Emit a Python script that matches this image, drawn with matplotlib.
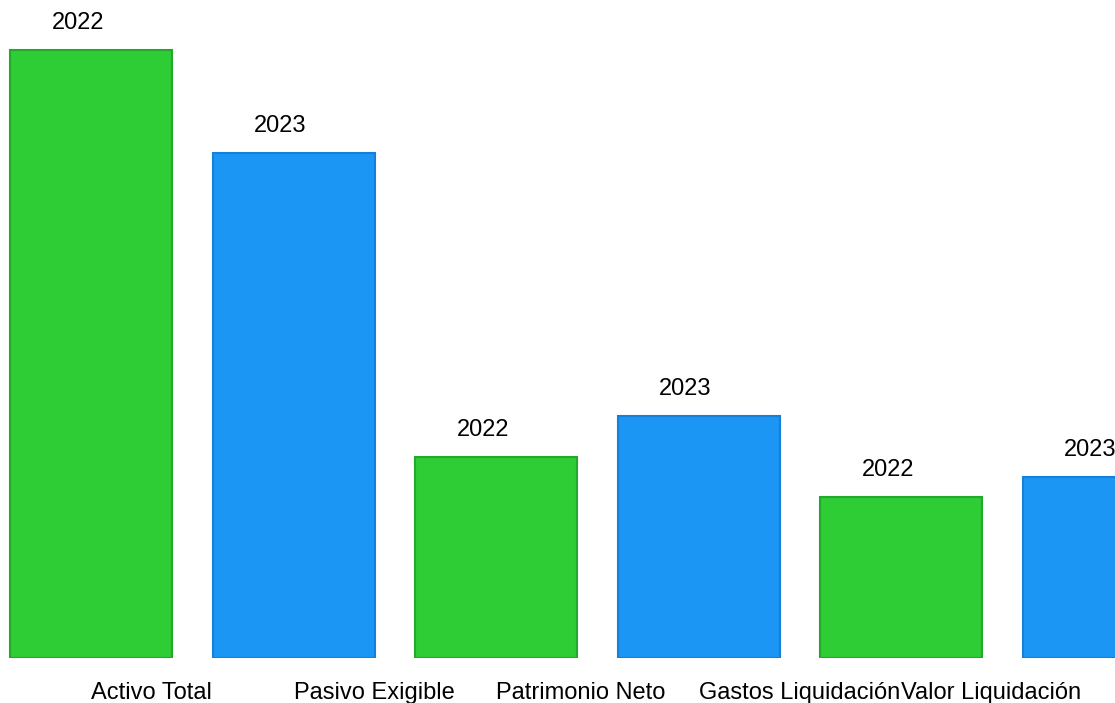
import matplotlib.pyplot as plt
import numpy as np

# bar values (arbitrary units)
values = [608, 505, 201, 242, 161, 181]
years = ["2022", "2023", "2022", "2023", "2022", "2023"]
categories = ["Activo Total", "Pasivo Exigible", "Patrimonio Neto",
              "Gastos Liquidación", "Valor Liquidación"]

fill = {"2022": "#2ecc35", "2023": "#1c96f5"}
edge = {"2022": "#22a82a", "2023": "#1680d8"}

plt.rcParams["font.family"] = ["Liberation Sans", "DejaVu Sans"]

fig = plt.figure(figsize=(11.15, 7.03), dpi=100)
ax = fig.add_axes([0, 45 / 703, 1, 658 / 703])

x = np.arange(len(values))
for i, (v, y) in enumerate(zip(values, years)):
    ax.bar(x[i], v, 0.8, color=fill[y], edgecolor=edge[y], linewidth=1.5)
    ax.annotate(y, xy=(x[i], v), xytext=(-13, 16), textcoords="offset pixels",
                ha="center", va="bottom", fontsize=17)

ax.set_xlim(-91 / 202.5, (1115 - 91) / 202.5)
ax.set_ylim(0, 658)
ax.set_xticks(x[:len(categories)])
ax.set_xticklabels(categories, ha="left", fontsize=17)
ax.tick_params(axis="x", length=0, pad=17)
ax.set_yticks([])
for s in ax.spines.values():
    s.set_visible(False)

fig.savefig("out.png", dpi=100)
